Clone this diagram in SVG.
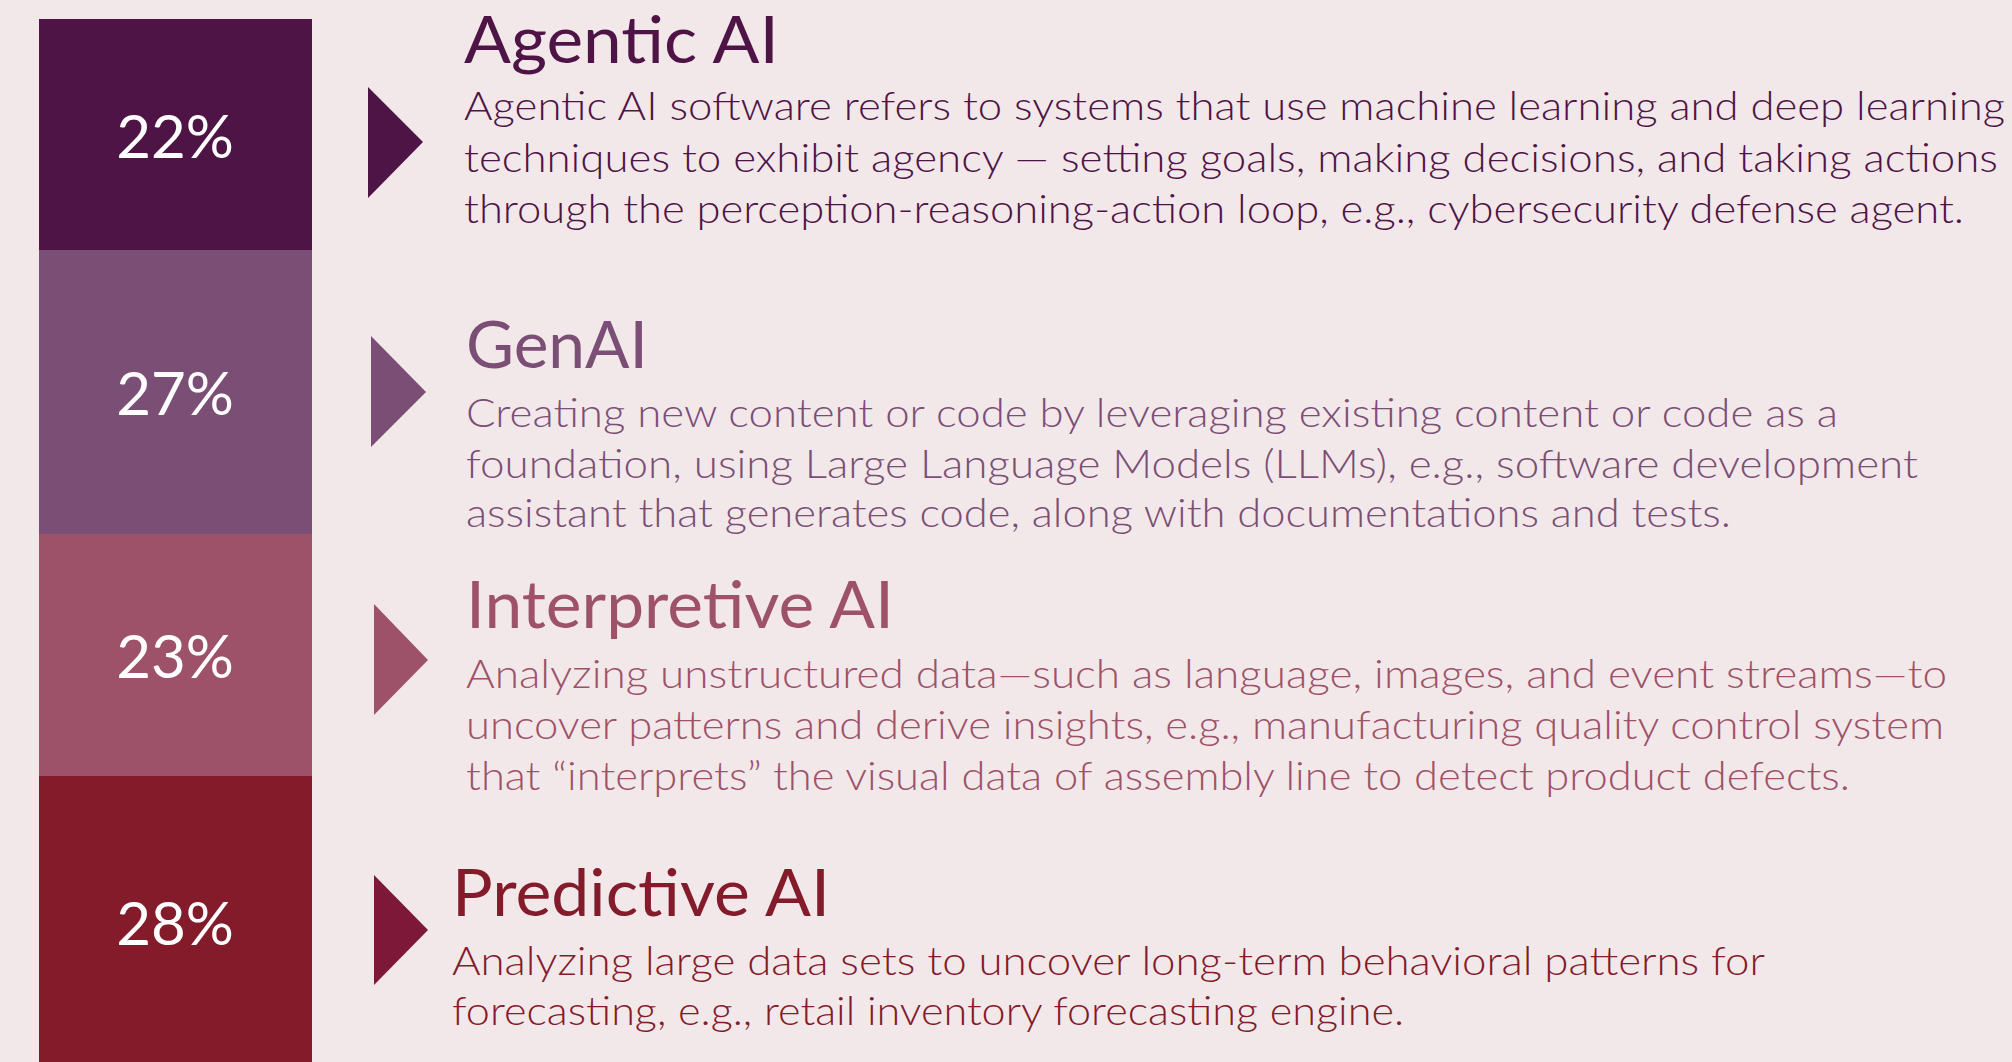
<svg xmlns="http://www.w3.org/2000/svg" width="2012" height="1062" viewBox="0 0 2012 1062">
<style>
.pct{font-family:Lato,"Liberation Sans",sans-serif;font-size:60px;fill:#ffffff;text-anchor:middle}
.ttl{font-family:Lato,"Liberation Sans",sans-serif;font-size:65px}
.bdy{font-family:Lato,"Liberation Sans",sans-serif;font-size:39px;font-weight:300}
.c1{fill:#4F1446}.c2{fill:#7B4F75}.c3{fill:#9E5269}.c4{fill:#841B2B}
</style>
<rect width="2012" height="1062" fill="#F2E8EA"/>
<g id="bar-agentic"><rect x="39" y="19" width="273" height="231" class="c1"/><text class="pct" x="175" y="158">22%</text></g>
<g id="bar-genai"><rect x="39" y="250" width="273" height="284" class="c2"/><text class="pct" x="175" y="415">27%</text></g>
<g id="bar-interpretive"><rect x="39" y="534" width="273" height="242" class="c3"/><text class="pct" x="175" y="678">23%</text></g>
<g id="bar-predictive"><rect x="39" y="776" width="273" height="286" class="c4"/><text class="pct" x="175" y="945">28%</text></g>
<g id="connectors">
<polygon points="368,87 423,142 368,198" class="c1"/>
<polygon points="371,336 426,392 371,447" class="c2"/>
<polygon points="374,604 428,660 374,715" class="c3"/>
<polygon points="374,875 428,930 374,985" fill="#7E1838"/>
</g>
<g id="agentic">
<text class="ttl c1" x="464" y="63" textLength="315" lengthAdjust="spacingAndGlyphs">Agentic AI</text>
<text class="bdy c1" x="464" y="120" textLength="1541" lengthAdjust="spacingAndGlyphs">Agentic AI software refers to systems that use machine learning and deep learning</text>
<text class="bdy c1" x="464" y="172" textLength="1534" lengthAdjust="spacingAndGlyphs">techniques to exhibit agency — setting goals, making decisions, and taking actions</text>
<text class="bdy c1" x="464" y="223" textLength="1500" lengthAdjust="spacingAndGlyphs">through the perception-reasoning-action loop, e.g., cybersecurity defense agent.</text>
</g>
<g id="genai">
<text class="ttl c2" x="466" y="368" textLength="182" lengthAdjust="spacingAndGlyphs">GenAI</text>
<text class="bdy c2" x="466" y="427" textLength="1372" lengthAdjust="spacingAndGlyphs">Creating new content or code by leveraging existing content or code as a</text>
<text class="bdy c2" x="466" y="478" textLength="1452" lengthAdjust="spacingAndGlyphs">foundation, using Large Language Models (LLMs), e.g., software development</text>
<text class="bdy c2" x="466" y="527" textLength="1265" lengthAdjust="spacingAndGlyphs">assistant that generates code, along with documentations and tests.</text>
</g>
<g id="interpretive">
<text class="ttl c3" x="466" y="628" textLength="428" lengthAdjust="spacingAndGlyphs">Interpretive AI</text>
<text class="bdy c3" x="466" y="688" textLength="1481" lengthAdjust="spacingAndGlyphs">Analyzing unstructured data—such as language, images, and event streams—to</text>
<text class="bdy c3" x="466" y="739" textLength="1478" lengthAdjust="spacingAndGlyphs">uncover patterns and derive insights, e.g., manufacturing quality control system</text>
<text class="bdy c3" x="466" y="790" textLength="1384" lengthAdjust="spacingAndGlyphs">that “interprets” the visual data of assembly line to detect product defects.</text>
</g>
<g id="predictive">
<text class="ttl c4" x="452" y="916" textLength="378" lengthAdjust="spacingAndGlyphs">Predictive AI</text>
<text class="bdy c4" x="452" y="975" textLength="1313" lengthAdjust="spacingAndGlyphs">Analyzing large data sets to uncover long-term behavioral patterns for</text>
<text class="bdy c4" x="452" y="1025" textLength="952" lengthAdjust="spacingAndGlyphs">forecasting, e.g., retail inventory forecasting engine.</text>
</g>
</svg>
